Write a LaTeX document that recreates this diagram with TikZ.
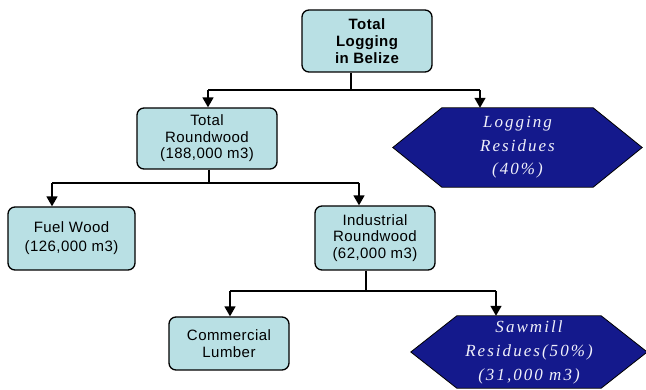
\documentclass[tikz,border=0pt]{standalone}
\usepackage{fontspec}
\usetikzlibrary{arrows.meta,backgrounds}
\newfontfamily\boxfont[LetterSpace=3]{Liberation Sans}
\newfontfamily\hexfont[LetterSpace=12]{Liberation Serif}
\definecolor{boxcyan}{RGB}{185,224,228}
\definecolor{hexnavy}{RGB}{20,25,140}
\definecolor{hextext}{RGB}{240,240,250}
\begin{document}
\begin{tikzpicture}[x=1pt,y=-1pt,
  box/.style={draw=black,line width=1.3pt,fill=boxcyan,rounded corners=7pt,
    align=center,inner sep=0pt,
    font=\boxfont\fontsize{15}{16.5}\selectfont},
  hexnode/.style={align=center,inner sep=0pt,text=hextext,
    font=\hexfont\itshape\fontsize{17}{23.5}\selectfont},
  hexshape/.style={draw=black,line width=0.8pt,fill=hexnavy},
  link/.style={line width=1.5pt},
  arr/.style={line width=1.5pt,-{Triangle[width=11pt,length=10pt]}}]
\useasboundingbox (0,0) rectangle (646,390);

\node[box,minimum width=130pt,minimum height=62pt,font=\boxfont\bfseries\fontsize{15}{16.7}\selectfont]
  (top) at (367,41) {Total\\Logging\\in Belize};
\node[box,minimum width=140pt,minimum height=61pt] (trw) at (207,138.5)
  {Total\\Roundwood\\(188,000 m3)};
\node[box,minimum width=127pt,minimum height=63pt] (fuel) at (71.5,238.5)
  {\raisebox{-3pt}{\parbox{120pt}{\centering\baselineskip=19pt Fuel Wood\\(126,000 m3)}}};
\node[box,minimum width=120pt,minimum height=64pt] (ind) at (375,238)
  {Industrial\\Roundwood\\(62,000 m3)};
\node[box,minimum width=120pt,minimum height=53pt] (com) at (229,343.5)
  {\raisebox{4pt}{\parbox{115pt}{\centering\baselineskip=17pt Commercial\\Lumber}}};

% hexagon text nodes (shape drawn on background)
\node[hexnode,minimum width=249pt,minimum height=79pt] (logres) at (517.5,147.5)
  {\raisebox{-4pt}{\parbox{200pt}{\centering\baselineskip=23.5pt Logging\\Residues\\(40\%)}}};
\node[hexnode,minimum width=236pt,minimum height=72pt] (sawres) at (529,352)
  {\raisebox{-4pt}{\parbox{200pt}{\centering\baselineskip=24pt Sawmill\\Residues(50\%)\\(31,000 m3)}}};
\begin{pgfonlayer}{background}
\draw[hexshape] (logres.west) -- ([xshift=49pt]logres.north west) -- ([xshift=-49pt]logres.north east)
  -- (logres.east) -- ([xshift=-49pt]logres.south east) -- ([xshift=49pt]logres.south west) -- cycle;
\draw[hexshape] (sawres.west) -- ([xshift=46pt]sawres.north west) -- ([xshift=-46pt]sawres.north east)
  -- (sawres.east) -- ([xshift=-46pt]sawres.south east) -- ([xshift=46pt]sawres.south west) -- cycle;
\end{pgfonlayer}

% connectors level 1
\coordinate (j1) at (351,90);
\coordinate (l1) at (208,90);
\coordinate (r1) at (480,90);
\draw[link] (j1 |- top.south) -- (j1);
\draw[link] (l1) -- (r1);
\draw[arr] (l1) -- (l1 |- trw.north);
\draw[arr] (r1) -- (r1 |- logres.north);

% connectors level 2
\coordinate (j2) at (209,183);
\coordinate (l2) at (52,183);
\coordinate (r2) at (359,183);
\draw[link] (j2 |- trw.south) -- (j2);
\draw[link] (l2) -- (r2);
\draw[arr] (l2) -- (l2 |- fuel.north);
\draw[arr] (r2) -- (r2 |- ind.north);

% connectors level 3
\coordinate (j3) at (366,291);
\coordinate (l3) at (230,291);
\coordinate (r3) at (496,291);
\draw[link] (j3 |- ind.south) -- (j3);
\draw[link] (l3) -- (r3);
\draw[arr] (l3) -- (l3 |- com.north);
\draw[arr] (r3) -- (r3 |- sawres.north);
\end{tikzpicture}
\end{document}
